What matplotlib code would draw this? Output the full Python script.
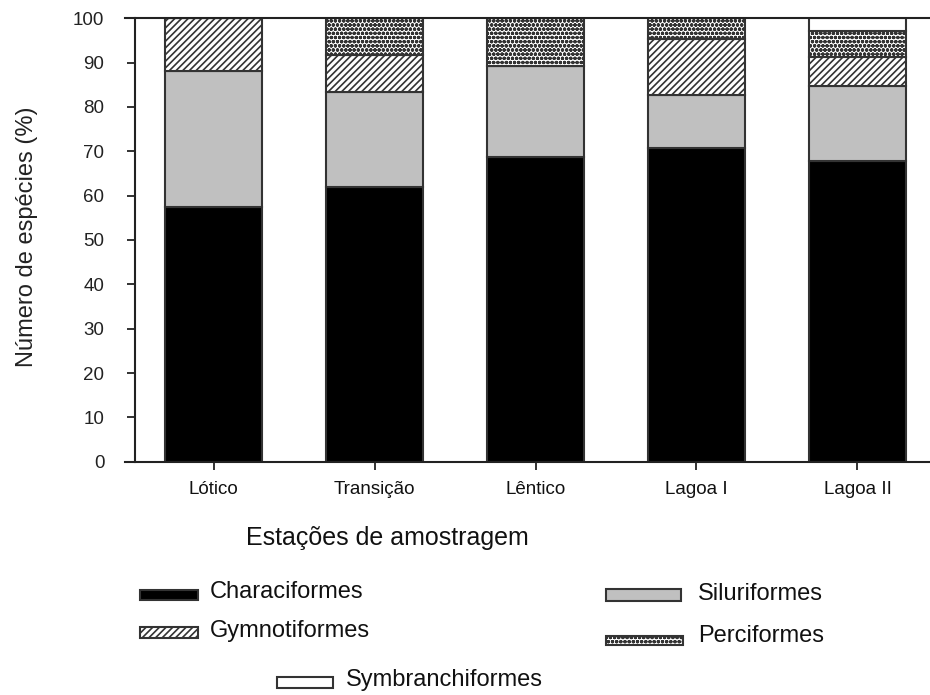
import matplotlib
matplotlib.use("Agg")
import matplotlib.pyplot as plt
from matplotlib.patches import Rectangle
import numpy as np

categories = ['Lótico', 'Transição', 'Lêntico', 'Lagoa I', 'Lagoa II']
series_names = ['Characiformes', 'Siluriformes', 'Gymnotiformes', 'Perciformes', 'Symbranchiformes']
characiformes = [57.5, 62.0, 68.8, 70.7, 67.8]
siluriformes = [30.6, 21.4, 20.4, 12.1, 17.0]
gymnotiformes = [11.9, 8.3, 0.0, 12.6, 6.4]
perciformes = [0.0, 8.3, 10.8, 4.6, 5.9]
symbranchiformes = [0.0, 0.0, 0.0, 0.0, 2.9]
yticks = list(range(0, 101, 10))

series = [characiformes, siluriformes, gymnotiformes, perciformes, symbranchiformes]
styles = [
    dict(facecolor='black', hatch=None),
    dict(facecolor='#c0c0c0', hatch=None),
    dict(facecolor='white', hatch='/////'),
    dict(facecolor='white', hatch='oooo'),
    dict(facecolor='white', hatch=None),
]

plt.rcParams['font.family'] = ['Liberation Sans', 'DejaVu Sans']
plt.rcParams['hatch.linewidth'] = 1.2
plt.rcParams['hatch.color'] = '#111111'

W, H = 930, 695
fig = plt.figure(figsize=(W / 100, H / 100), dpi=100)
ax = fig.add_axes([135 / W, 1 - 461.7 / H, (936 - 135) / W, (461.7 - 18.3) / H])

x = np.arange(len(categories))
bottom = np.zeros(len(categories))
edge = '#333333'
for vals, st in zip(series, styles):
    v = np.array(vals)
    ax.bar(x, v, width=0.6, bottom=bottom, facecolor=st['facecolor'], hatch=st['hatch'],
           edgecolor=edge, linewidth=1.5)
    bottom = bottom + v

ax.set_xlim(-0.4876, 4.4876)
ax.set_ylim(0, 100)
ax.set_yticks(yticks)
ax.set_yticklabels([str(t) for t in yticks], fontsize=13.5, color='#222222')
ax.set_xticks(x)
ax.set_xticklabels(categories, fontsize=13.5, color='#111111')
ax.tick_params(axis='both', direction='out', length=6, width=1.3, color='#222222')
ax.tick_params(axis='y', pad=16)
ax.tick_params(axis='x', pad=8)
for s in ['left', 'bottom', 'top']:
    ax.spines[s].set_linewidth(1.5)
    ax.spines[s].set_color('#222222')
ax.spines['right'].set_visible(False)
ax.spines['bottom'].set_bounds(-0.55, 4.4876)
ax.spines['top'].set_bounds(-0.55, 4.4876)

fig.text(27 / W, 1 - 237 / H, 'Número de espécies (%)', fontsize=17, rotation=90,
         ha='center', va='center', color='#222222')
fig.text(387 / W, 1 - 538 / H, 'Estações de amostragem', fontsize=18, ha='center', va='center',
         color='#111111')

# legend (manual layout)
leg = [
    (0, 140, 590, 58, 10, 210, 592),
    (1, 606, 589, 75, 12, 698, 594),
    (2, 140, 627, 58, 11, 210, 631),
    (3, 606, 636, 77, 9, 698, 636),
    (4, 277, 677, 56, 11, 346, 680),
]
for idx, px, py, pw, ph, tx, ty in leg:
    st = styles[idx]
    r = Rectangle((px / W, 1 - (py + ph) / H), pw / W, ph / H, transform=fig.transFigure,
                  facecolor=st['facecolor'], hatch=st['hatch'], edgecolor=edge, linewidth=1.5)
    fig.patches.append(r)
    fig.text(tx / W, 1 - ty / H, series_names[idx], fontsize=17, ha='left', va='center',
             color='#111111')

fig.savefig('out.png', dpi=100)
